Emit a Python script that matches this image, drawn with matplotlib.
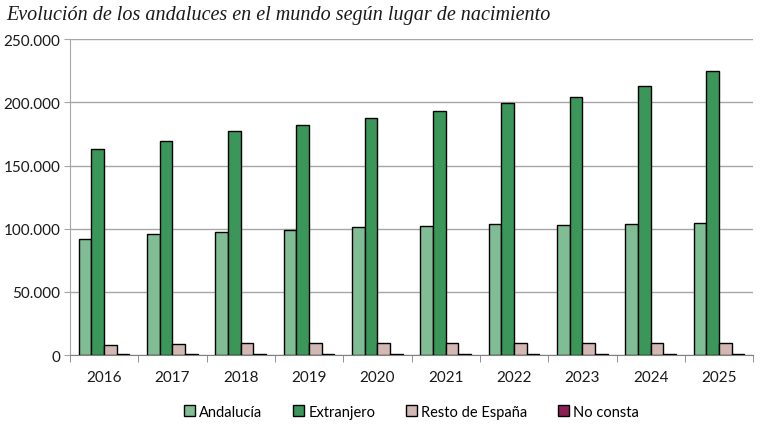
import matplotlib.pyplot as plt
import matplotlib.ticker as mticker
import numpy as np

# datos
anios = ['2016', '2017', '2018', '2019', '2020', '2021', '2022', '2023', '2024', '2025']
andalucia = [92000, 95800, 97400, 99000, 101500, 101800, 103400, 102600, 103400, 104500]
extranjero = [162700, 169800, 177000, 182300, 188000, 192800, 199800, 204200, 213000, 224600]
resto_espana = [7900, 9000, 9200, 9300, 9800, 9800, 9800, 9800, 9800, 9800]
no_consta = [1200, 1200, 1200, 1200, 1200, 1200, 1200, 1200, 1200, 1200]

series = [('Andalucía', andalucia, '#80bc94'),
          ('Extranjero', extranjero, '#3b9659'),
          ('Resto de España', resto_espana, '#d3b7b2'),
          ('No consta', no_consta, '#8e1f55')]

plt.rcParams['font.family'] = ['Lato', 'DejaVu Sans']

fig = plt.figure(figsize=(7.6, 4.27), dpi=100)
ax = fig.add_axes([0.092, 0.166, 0.899, 0.74])

x = np.arange(len(anios))
w = 0.186
for i, (nom, vals, col) in enumerate(series):
    ax.bar(x + (i - 1.5) * w, vals, w, color=col, edgecolor='black', linewidth=1.0,
           label=nom, zorder=3)

ax.set_xlim(-0.5, len(anios) - 0.5)
ax.set_ylim(0, 250000)
ax.set_yticks(np.arange(0, 250001, 50000))
ax.yaxis.set_major_formatter(mticker.FuncFormatter(lambda v, p: '{:,.0f}'.format(v).replace(',', '.')))
ax.grid(axis='y', color='#a6a6a6', linewidth=1.0, zorder=0)

ax.set_xticks(x)
ax.set_xticklabels(anios)
ax.set_xticks(np.arange(-0.5, len(anios), 1), minor=True)
ax.tick_params(axis='x', which='major', length=0, pad=11, labelsize=11, labelcolor='#1a1a1a')
ax.tick_params(axis='x', which='minor', length=5, color='#808080', direction='out')
ax.tick_params(axis='y', length=4, color='#a6a6a6', labelsize=11, labelcolor='#1a1a1a', pad=3)

for s in ['top', 'right']:
    ax.spines[s].set_visible(False)
ax.spines['left'].set_color('#a6a6a6')
ax.spines['bottom'].set_color('#808080')

fig.text(0.008, 0.952, 'Evolución de los andaluces en el mundo según lugar de nacimiento',
         fontsize=14.5, style='italic', family='Liberation Serif', color='#1a1a1a')

ax.legend(loc='upper center', bbox_to_anchor=(0.5, -0.115), ncol=4, frameon=False,
          fontsize=10.5, handlelength=0.75, handleheight=0.75, handletextpad=0.3,
          columnspacing=2.1)

fig.savefig('out.png', dpi=100)
